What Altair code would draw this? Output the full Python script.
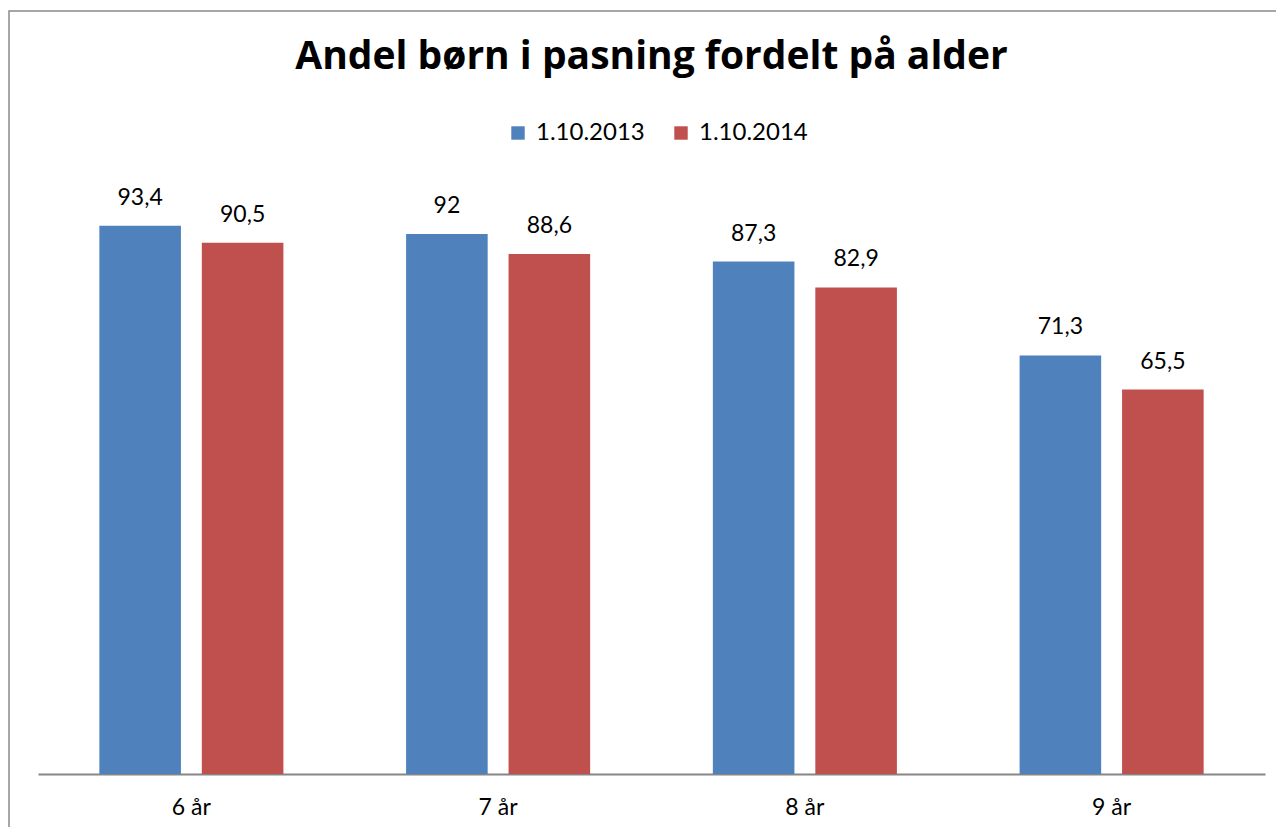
import altair as alt
import pandas as pd

ages = ["6 år", "7 år", "8 år", "9 år"]
series = ["1.10.2013", "1.10.2014"]
values_2013 = [93.4, 92.0, 87.3, 71.3]
values_2014 = [90.5, 88.6, 82.9, 65.5]
colors = ["#4F81BD", "#C0504D"]
title_text = "Andel børn i pasning fordelt på alder"

def fmt(v):
    s = ("%.1f" % v).rstrip("0").rstrip(".")
    return s.replace(".", ",")

rows = []
for a, v1, v2 in zip(ages, values_2013, values_2014):
    rows.append({"age": a, "series": series[0], "value": v1, "label": fmt(v1)})
    rows.append({"age": a, "series": series[1], "value": v2, "label": fmt(v2)})
df = pd.DataFrame(rows)

FONT = "Lato"

x = alt.X("age:N", sort=ages, title=None,
          scale=alt.Scale(paddingInner=0.4, paddingOuter=0.2),
          axis=alt.Axis(labelAngle=0, labelFont=FONT, labelFontSize=23, labelColor="#000000",
                        labelPadding=22, ticks=False, domainColor="#868686", domainWidth=2))
xo = alt.XOffset("series:N", sort=series, scale=alt.Scale(paddingInner=0.204, paddingOuter=0))
y = alt.Y("value:Q", scale=alt.Scale(domain=[0, 100]), axis=None)

bars = alt.Chart(df).mark_bar().encode(
    x=x, xOffset=xo, y=y,
    color=alt.Color("series:N", sort=series, scale=alt.Scale(domain=series, range=colors),
                    legend=alt.Legend(title=None, orient="none", direction="horizontal",
                                      legendX=468, legendY=-66, symbolType="square",
                                      symbolSize=180, symbolStrokeWidth=0, labelFont=FONT,
                                      labelFontSize=24, labelColor="#000000", labelOffset=6,
                                      columnPadding=24, padding=0)),
)

labels = alt.Chart(df).mark_text(font=FONT, fontSize=23, color="#000000", baseline="alphabetic", dy=-21).encode(
    x=x, xOffset=xo, y=y, text="label:N"
)

frame = alt.Chart(pd.DataFrame({"k": [0]})).mark_rect(fill=None, stroke="#898989", strokeWidth=1.5, clip=False).encode(
    x=alt.value(-29), x2=alt.value(1400), y=alt.value(-176), y2=alt.value(800)
)

title = alt.Chart(pd.DataFrame({"t": [title_text]})).mark_text(
    font="Open Sans", fontSize=39, fontWeight="bold", color="#000000", align="center", baseline="alphabetic"
).encode(x=alt.value(613.5), y=alt.value(-118), text="t:N")

chart = alt.layer(frame, bars, labels, title).properties(
    width=1227, height=587,
    autosize=alt.AutoSizeParams(type="none"),
    padding={"left": 30, "top": 179, "right": 11, "bottom": 53},
).configure_view(stroke=None)

chart.save("out.html", embed_options={"renderer": "svg", "actions": False})
